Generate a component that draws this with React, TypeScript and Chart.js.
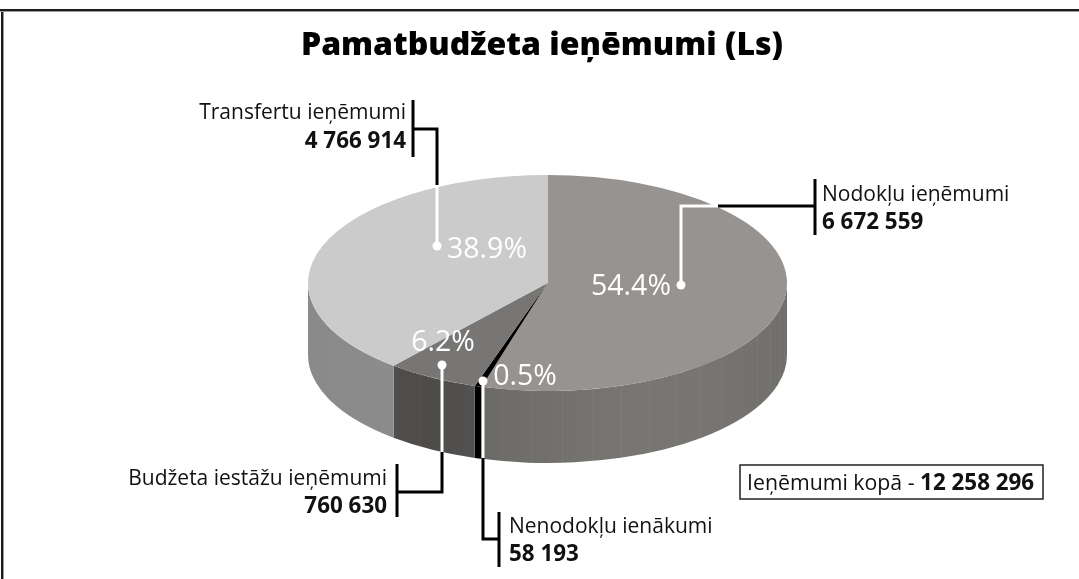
import React, { useEffect, useRef } from "react";
import { Chart, registerables } from "chart.js";

Chart.register(...registerables);

const titleText = "Pamatbudžeta ieņēmumi (Ls)";
const categories = ["Nodokļu ieņēmumi", "Nenodokļu ienākumi", "Budžeta iestāžu ieņēmumi", "Transfertu ieņēmumi"];
const values = [6672559, 58193, 760630, 4766914];
const valueLabels = ["6 672 559", "58 193", "760 630", "4 766 914"];
const totalLabel = "12 258 296";
const topColors = ["#979390", "#000000", "#777674", "#cbcbcb"];
const wallColors = [
  ["#6b6a67", "#72716d", "#787672", "#777571", "#706f6b"],
  ["#000000", "#000000"],
  ["#4f4e4c", "#4d4c4a", "#535250"],
  ["#8a8a8a", "#8c8c8c"],
];
const seamAlpha = [0.05, 0, 0.03, 0];

const PIE = { cx: 547.5, cy: 283, rx: 239.5, ry: 108, depth: 72 };
const FONT = '"Open Sans"';

type Callout = {
  percent: [number, number];
  white: [number, number][];
  black: [number, number][];
  bar: [number, number, number];
  name: [number, number];
  value: [number, number];
  align: CanvasTextAlign;
};
const callouts: Callout[] = [
  {
    percent: [631, 295],
    white: [[681, 285], [681, 206], [718, 206]],
    black: [[718, 206], [815, 206]],
    bar: [815, 179, 235],
    name: [822, 201],
    value: [822, 229],
    align: "left",
  },
  {
    percent: [525, 385],
    white: [[483, 381], [483, 458]],
    black: [[483, 458], [483, 539], [499, 539]],
    bar: [499, 512, 567],
    name: [509, 533],
    value: [509, 561],
    align: "left",
  },
  {
    percent: [443, 351],
    white: [[442, 365], [442, 452]],
    black: [[442, 452], [442, 492], [397, 492]],
    bar: [397, 464, 517],
    name: [387, 485],
    value: [387, 513],
    align: "right",
  },
  {
    percent: [487, 258],
    white: [[437, 246], [437, 185]],
    black: [[437, 185], [437, 129], [413, 129]],
    bar: [413, 100, 157],
    name: [406, 119],
    value: [406, 148],
    align: "right",
  },
];

function polyline(ctx: CanvasRenderingContext2D, pts: [number, number][], color: string, width: number) {
  ctx.beginPath();
  pts.forEach(([x, y], i) => (i ? ctx.lineTo(x, y) : ctx.moveTo(x, y)));
  ctx.strokeStyle = color;
  ctx.lineWidth = width;
  ctx.lineJoin = "miter";
  ctx.stroke();
}

const pie3d = {
  id: "pie3d",
  beforeDraw(chart: any) {
    const { ctx, width, height } = chart;
    ctx.save();
    ctx.fillStyle = "#ffffff";
    ctx.fillRect(0, 0, width, height);
    ctx.fillStyle = "#1c1c1c";
    ctx.fillRect(0, 9, width, 2);
    ctx.fillRect(1, 9, 2, height - 9);
    ctx.fillStyle = "#9a9a9a";
    ctx.fillRect(0, 11, width, 1);
    ctx.fillRect(3, 11, 1, height - 11);
    ctx.restore();
  },
  beforeDatasetsDraw(chart: any) {
    const { ctx } = chart;
    const arcs = chart.getDatasetMeta(0).data;
    const { cx, cy, rx, ry, depth } = PIE;
    arcs.forEach((arc: any, i: number) => {
      const a0 = Math.max(arc.startAngle, 0);
      const a1 = Math.min(arc.endAngle, Math.PI);
      if (a1 <= a0) return;
      const x0 = cx + rx * Math.cos(a1);
      const x1 = cx + rx * Math.cos(a0);
      const grad = ctx.createLinearGradient(x0, 0, x1, 0);
      const stops = wallColors[i];
      stops.forEach((c, k) => grad.addColorStop(k / (stops.length - 1), c));
      ctx.beginPath();
      ctx.ellipse(cx, cy, rx, ry, 0, a0, a1, false);
      ctx.ellipse(cx, cy + depth, rx, ry, 0, a1, a0, true);
      ctx.closePath();
      ctx.fillStyle = grad;
      ctx.fill();
      if (seamAlpha[i] > 0) {
        ctx.save();
        ctx.clip();
        ctx.strokeStyle = `rgba(255,255,255,${seamAlpha[i]})`;
        ctx.lineWidth = 1;
        const step = (Math.PI / 180) * 7.2;
        for (let a = a0 + step; a < a1; a += step) {
          const x = cx + rx * Math.cos(a);
          const y = cy + ry * Math.sin(a);
          ctx.beginPath();
          ctx.moveTo(x, y);
          ctx.lineTo(x, y + depth);
          ctx.stroke();
        }
        ctx.restore();
      }
    });
    const first = arcs[0];
    const r = first.outerRadius;
    ctx.save();
    ctx.translate(cx, cy);
    ctx.scale(rx / r, ry / r);
    ctx.translate(-first.x, -first.y);
  },
  afterDatasetsDraw(chart: any) {
    chart.ctx.restore();
  },
  afterDraw(chart: any) {
    const { ctx } = chart;
    const total = values.reduce((a, b) => a + b, 0);
    ctx.save();
    ctx.textBaseline = "alphabetic";
    callouts.forEach((c, i) => {
      polyline(ctx, c.black, "#000000", 3);
      polyline(ctx, c.white, "#ffffff", 3);
      polyline(ctx, [[c.bar[0], c.bar[1]], [c.bar[0], c.bar[2]]], "#000000", 3);
      ctx.beginPath();
      ctx.arc(c.white[0][0], c.white[0][1], 4.5, 0, Math.PI * 2);
      ctx.fillStyle = "#ffffff";
      ctx.fill();
      ctx.textAlign = "center";
      ctx.font = `400 28.5px ${FONT}`;
      ctx.fillStyle = "#ffffff";
      ctx.fillText(((values[i] / total) * 100).toFixed(1) + "%", c.percent[0], c.percent[1]);
      ctx.textAlign = c.align;
      ctx.fillStyle = "#111111";
      ctx.font = `400 21px ${FONT}`;
      ctx.fillText(categories[i], c.name[0], c.name[1]);
      ctx.font = `700 22.4px ${FONT}`;
      ctx.fillText(valueLabels[i], c.value[0], c.value[1]);
    });
    ctx.strokeStyle = "#222222";
    ctx.lineWidth = 1.5;
    ctx.strokeRect(740, 465, 303, 34);
    ctx.textAlign = "left";
    ctx.font = `400 21.3px ${FONT}`;
    const prefix = "Ieņēmumi kopā - ";
    ctx.fillText(prefix, 747, 490);
    const w = ctx.measureText(prefix).width;
    ctx.font = `700 22.4px ${FONT}`;
    ctx.fillText(totalLabel, 747 + w, 490);
    ctx.restore();
  },
};

export default function App() {
  const ref = useRef<HTMLCanvasElement>(null);
  useEffect(() => {
    const chart = new Chart(ref.current!, {
      type: "pie",
      data: {
        labels: categories,
        datasets: [{ data: values, backgroundColor: topColors, borderWidth: 0 }],
      },
      options: {
        responsive: false,
        animation: false,
        layout: { padding: { left: 5 } },
        plugins: {
          legend: { display: false },
          tooltip: { enabled: false },
          title: {
            display: true,
            text: titleText,
            color: "#000000",
            font: { family: FONT, size: 32, weight: "800" },
            padding: { top: 27, bottom: 10 },
          },
        },
      },
      plugins: [pie3d],
    } as any);
    return () => chart.destroy();
  }, []);
  return (
    <canvas
      ref={ref}
      width={1079}
      height={579}
      style={{ position: "fixed", left: 0, top: 0, display: "block" }}
    />
  );
}
